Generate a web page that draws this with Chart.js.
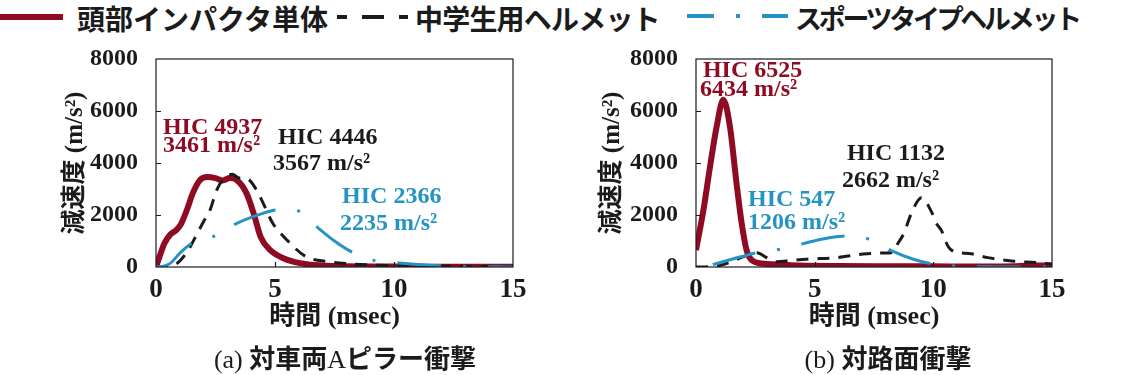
<!DOCTYPE html>
<html lang="ja">
<head>
<meta charset="utf-8">
<title>減速度波形</title>
<script src="https://cdn.jsdelivr.net/npm/chart.js@4.4.0/dist/chart.umd.min.js"></script>
<style>
  html, body { margin: 0; padding: 0; background: #fff; }
  body { width: 1125px; height: 375px; position: relative; overflow: hidden; color: #1b1b1b; }
  canvas { position: absolute; top: 0; }
  #chartA { left: 0; }
  #chartB { left: 560px; }
  #legend { position: absolute; top: 0; left: 0; width: 1125px; height: 36px; }
  #legend svg { position: absolute; top: 0; left: 0; }
  #legend span { position: absolute; top: 3px; font-family: 'Noto Sans CJK JP', sans-serif; font-size: 28px; font-weight: 700; line-height: 30px; white-space: nowrap; }
  .caption { position: absolute; top: 340px; width: 340px; font-family: 'Liberation Serif', serif; font-size: 26px; line-height: 34px; text-align: center; white-space: nowrap; }
  .caption b { font-family: 'Noto Sans CJK JP', sans-serif; font-weight: 700; }
</style>
</head>
<body>
<div id="legend"></div>
<canvas id="chartA" width="560" height="375"></canvas>
<canvas id="chartB" width="565" height="375"></canvas>
<div class="caption" style="left:175px">(a) <b>対車両</b>A<b>ピラー衝撃</b></div>
<div class="caption" style="left:718px">(b) <b>対路面衝撃</b></div>
<script>
// ---- data ----
const seriesNames = ['頭部インパクタ単体', '中学生用ヘルメット', 'スポーツタイプヘルメット'];
const xTicks = [0, 5, 10, 15];
const yTicks = [0, 2000, 4000, 6000, 8000];
const xTickLabels = ['0', '5', '10', '15'];
const yTickLabels = ['0', '2000', '4000', '6000', '8000'];

// (a) 対車両Aピラー衝撃  time (msec) / deceleration (m/s2)
const tHeadA = [0, 0.15, 0.35, 0.6, 0.85, 1.05, 1.3, 1.55, 1.85, 2.15, 2.5, 2.8, 3.1, 3.4, 3.8, 4.1, 4.4, 4.8, 5.35, 6.05, 7, 8, 10, 12, 15];
const accHeadA = [0, 400, 900, 1250, 1420, 1650, 2200, 2850, 3350, 3461, 3420, 3330, 3420, 3340, 2840, 2070, 1150, 650, 340, 150, 60, 30, 15, 10, 5];
const tJhsA = [0, 0.5, 0.9, 1.2, 1.45, 1.7, 2.0, 2.27, 2.55, 2.8, 3.05, 3.2, 3.5, 3.85, 4.2, 4.5, 4.9, 5.5, 6.3, 7.3, 8, 9, 10, 12, 15];
const accJhsA = [0, 20, 150, 450, 800, 1230, 1750, 2190, 2960, 3350, 3530, 3567, 3420, 3380, 3000, 2460, 1690, 1040, 400, 200, 130, 80, 50, 30, 15];
const tSportA = [0, 0.3, 0.6, 1.0, 1.5, 2.4, 3.25, 4.08, 5.0, 5.5, 6.0, 6.75, 7.5, 8.2, 9.2, 10.25, 11, 12, 13, 15];
const accSportA = [0, 30, 140, 530, 910, 1170, 1615, 1935, 2190, 2235, 2150, 1550, 1000, 590, 240, 150, 100, 50, 20, 0];
const hicA = [4937, 4446, 2366];
const peakA = [3461, 3567, 2235];

// (b) 対路面衝撃
const tHeadB = [0, 0.31, 0.59, 0.87, 1.15, 1.43, 1.71, 1.93, 2.14, 2.4, 3.0, 4, 6, 8, 10, 12, 13.5, 14.3, 14.7, 15];
const accHeadB = [650, 2170, 3850, 5400, 6434, 5400, 3200, 1650, 620, 230, 115, 70, 40, 30, 25, 20, 30, 60, 60, 40];
const tJhsB = [0, 0.5, 1.0, 1.5, 2.0, 2.56, 3.0, 3.4, 4.0, 4.66, 5.93, 7.05, 8.0, 8.25, 8.53, 8.75, 9.1, 9.5, 9.93, 10.14, 10.35, 10.63, 11.0, 11.5, 12.3, 13.3, 14.3, 15];
const accJhsB = [0, 10, 60, 200, 400, 550, 350, 200, 250, 300, 360, 500, 540, 560, 940, 1280, 2120, 2662, 2110, 1660, 1390, 780, 560, 520, 360, 230, 170, 120];
const tSportB = [0, 0.4, 0.73, 1.5, 2.0, 2.56, 3.54, 4.52, 5.4, 6.0, 6.5, 7.0, 7.4, 8.25, 9.16, 10.07, 11, 12, 15];
const accSportB = [0, 30, 100, 300, 420, 550, 680, 900, 1090, 1170, 1206, 1150, 1030, 620, 300, 100, 30, 5, 0];
const hicB = [6525, 1132, 547];
const peakB = [6434, 2662, 1206];

// ---- style / layout ----
const INK = '#1b1b1b';
const colors = ['#8e0b23', INK, '#2594c4'];
const widths = [6, 3, 3];
const dashes = [[], [12, 9], [44, 22, 3, 22]];
const SERIF = "'Liberation Serif', 'Noto Sans CJK JP', serif";

// note anchors in data units: [x, y] of HIC line and of peak line
const noteAtA = [[0.29, 5346, 0.29, 4654], [5.13, 4961, 4.92, 3961], [7.82, 2692, 7.73, 1654]];
const noteAtB = [[0.29, 7533, 0.17, 6834], [6.36, 4349, 6.15, 3300], [2.19, 2602, 2.19, 1709]];

// ---- legend (html) ----
const legend = document.getElementById('legend');
legend.innerHTML =
  '<svg width="1125" height="36">' +
  `<line x1="0" y1="17" x2="63" y2="17" stroke="${colors[0]}" stroke-width="6"/>` +
  `<line x1="337" y1="17" x2="408" y2="17" stroke="${colors[1]}" stroke-width="4" stroke-dasharray="10 15 22 15 10"/>` +
  `<line x1="687" y1="16" x2="788" y2="16" stroke="${colors[2]}" stroke-width="4" stroke-dasharray="27 22 4 22 27"/>` +
  '</svg>' +
  `<span style="left:77px">${seriesNames[0]}</span>` +
  `<span style="left:415px;letter-spacing:-0.8px">${seriesNames[1]}</span>` +
  `<span style="left:795px;font-size:27px;letter-spacing:-3.3px">${seriesNames[2]}</span>`;

// ---- frame, inward ticks and HIC notes ----
const notesPlugin = {
  id: 'notes',
  afterDatasetsDraw(chart, args, opts) {
    const { ctx, chartArea: a, scales: { x, y } } = chart;
    ctx.save();
    ctx.strokeStyle = INK;
    ctx.lineWidth = 1.2;
    ctx.strokeRect(a.left, a.top, a.width, a.height);
    ctx.beginPath();
    yTicks.slice(1, -1).forEach(v => {
      const p = Math.round(y.getPixelForValue(v)) + 0.5;
      ctx.moveTo(a.left, p); ctx.lineTo(a.left + 5, p);
    });
    xTicks.slice(1, -1).forEach(v => {
      const p = Math.round(x.getPixelForValue(v)) + 0.5;
      ctx.moveTo(p, a.bottom); ctx.lineTo(p, a.bottom - 5);
    });
    ctx.stroke();

    ctx.font = 'bold 24px ' + SERIF;
    ctx.textBaseline = 'middle';
    ctx.textAlign = 'left';
    opts.hic.forEach((h, i) => {
      const at = opts.at[i];
      ctx.fillStyle = colors[i];
      ctx.fillText('HIC ' + h, x.getPixelForValue(at[0]), y.getPixelForValue(at[1]));
      ctx.fillText(opts.peak[i] + ' m/s²', x.getPixelForValue(at[2]), y.getPixelForValue(at[3]));
    });
    ctx.restore();
  }
};

function buildChart(id, series, hic, peak, at, pad, yTitleLeft, dashOffsets) {
  const datasets = series.map((s, i) => ({
    label: seriesNames[i],
    data: s[0].map((t, k) => ({ x: t, y: s[1][k] })),
    borderColor: colors[i],
    borderWidth: widths[i],
    borderDash: dashes[i],
    borderDashOffset: dashOffsets[i],
    pointRadius: 0,
    cubicInterpolationMode: 'monotone',
    fill: false,
    order: 3 - i
  }));

  return new Chart(document.getElementById(id), {
    type: 'line',
    data: { datasets },
    options: {
      responsive: false,
      animation: false,
      devicePixelRatio: 1,
      layout: { padding: pad },
      plugins: {
        legend: { display: false },
        tooltip: { enabled: false },
        notes: { hic, peak, at }
      },
      scales: {
        x: {
          type: 'linear',
          min: 0,
          max: 15,
          afterBuildTicks: s => { s.ticks = xTicks.map(v => ({ value: v })); },
          afterFit: s => { s.height = 68; },
          grid: { display: false },
          border: { display: false },
          ticks: {
            padding: 2,
            color: INK,
            callback: (v) => xTickLabels[xTicks.indexOf(v)],
            font: { family: SERIF, size: 27, weight: 'bold', lineHeight: 1 }
          },
          title: {
            display: true,
            text: '時間 (msec)',
            color: INK,
            padding: { top: 0, bottom: 2 },
            font: { family: SERIF, size: 26, weight: 'bold', lineHeight: 1.2 }
          }
        },
        y: {
          min: 0,
          max: 8000,
          afterBuildTicks: s => { s.ticks = yTicks.map(v => ({ value: v })); },
          afterFit: s => { s.width = pad.yWidth; },
          grid: { display: false },
          border: { display: false },
          ticks: {
            padding: 10,
            color: INK,
            callback: (v) => yTickLabels[yTicks.indexOf(v)],
            font: { family: SERIF, size: 24, weight: 'bold', lineHeight: 1 }
          },
          title: {
            display: true,
            text: '減速度 (m/s²)',
            color: INK,
            padding: { top: yTitleLeft, bottom: 0 },
            font: { family: SERIF, size: 25, weight: 'bold', lineHeight: 1.2 }
          }
        }
      }
    },
    plugins: [notesPlugin]
  });
}

buildChart('chartA',
  [[tHeadA, accHeadA], [tJhsA, accJhsA], [tSportA, accSportA]],
  hicA, peakA, noteAtA,
  { top: 59, right: 47, bottom: 40, left: 0, yWidth: 156 }, 61, [0, 0, 0]);

buildChart('chartB',
  [[tHeadB, accHeadB], [tJhsB, accJhsB], [tSportB, accSportB]],
  hicB, peakB, noteAtB,
  { top: 59, right: 73, bottom: 40, left: 0, yWidth: 136 }, 38, [0, 0, 74]);
</script>
</body>
</html>
